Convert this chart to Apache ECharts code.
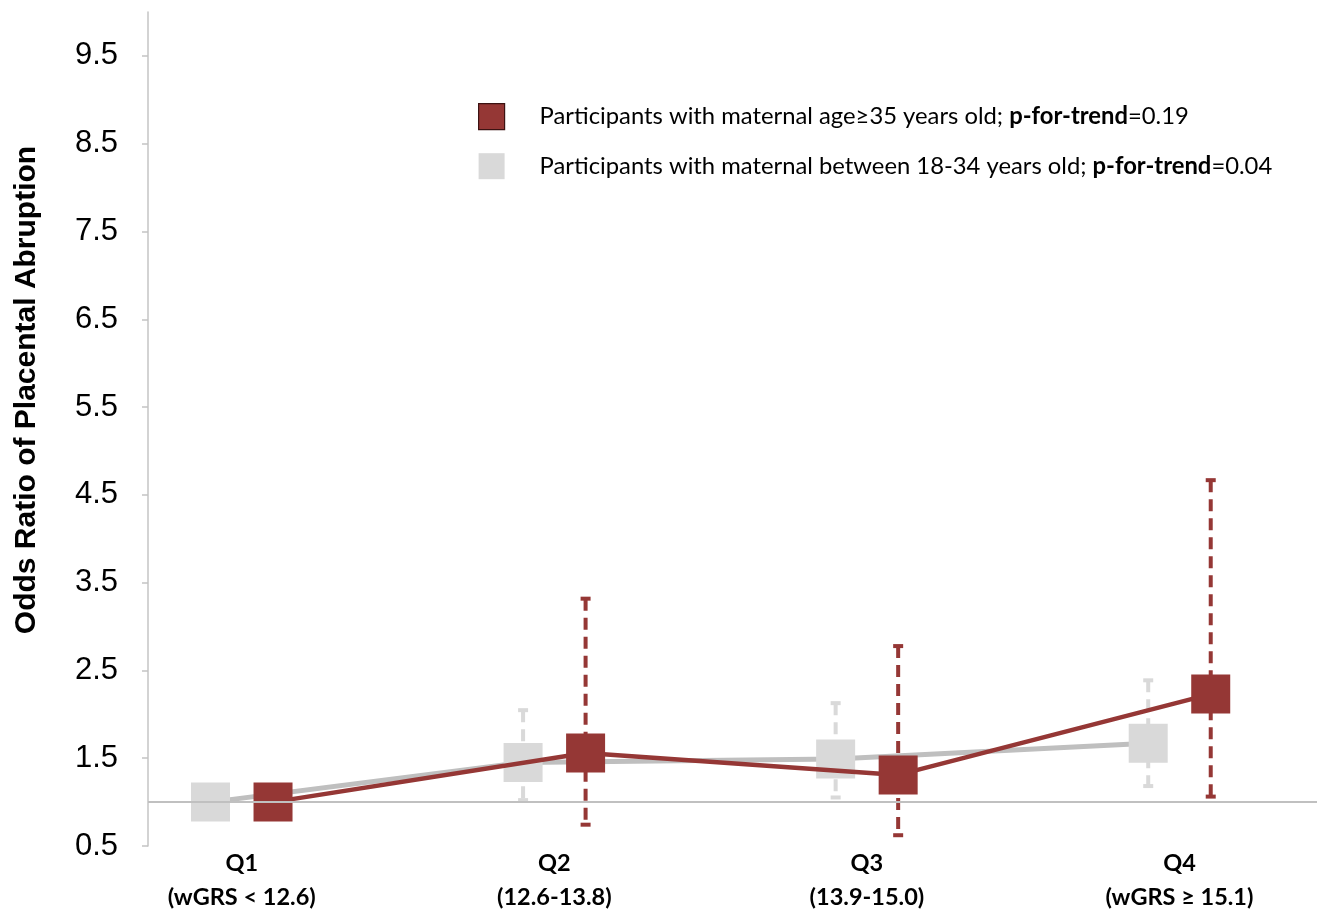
<!DOCTYPE html>
<html>
<head>
<meta charset="utf-8">
<script src="https://cdn.jsdelivr.net/npm/echarts@6/dist/echarts.min.js"></script>
<style>
  html, body { margin: 0; padding: 0; background: #ffffff; }
  #chart { width: 1317px; height: 913px; }
</style>
</head>
<body>
<div id="chart"></div>
<script>
// Quartiles of the weighted genetic risk score
const quartiles = ['Q1', 'Q2', 'Q3', 'Q4'];
const quartileRanges = ['(wGRS < 12.6)', '(12.6-13.8)', '(13.9-15.0)', '(wGRS \u2265 15.1)'];

// Maternal age >= 35: odds ratios with 95% CI (Q1 is the reference group)
const olderOR = [1.00, 1.56, 1.31, 2.23];
const olderLow = [null, 0.72, 0.60, 1.04];
const olderHigh = [null, 3.34, 2.80, 4.69];

// Maternal age 18-34: odds ratios with 95% CI
const youngerOR = [1.00, 1.45, 1.49, 1.67];
const youngerLow = [null, 1.00, 1.03, 1.16];
const youngerHigh = [null, 2.07, 2.15, 2.41];

// Legend wording and trend p-values
const groupLabels = [
  'Participants with maternal age\u226535 years old; ',
  'Participants with maternal between 18-34 years old; '
];
const trendP = ['0.19', '0.04'];

// Y axis tick labels
const yTicks = [0.5, 1.5, 2.5, 3.5, 4.5, 5.5, 6.5, 7.5, 8.5, 9.5];
const referenceOR = 1;

// Horizontal offset of the two groups around each quartile position
const DODGE = 0.1;
const RED = '#953735';
const GREY_MARK = '#d9d9d9';
const GREY_LINE = '#bfbfbf';

const seriesNames = ['older', 'younger'];

function points(values, shift) {
  return values.map((v, i) => [i + 1 + shift, v]);
}
function ciRows(low, high, shift) {
  const rows = [];
  low.forEach((l, i) => {
    if (l != null && high[i] != null) rows.push([i + 1 + shift, l, high[i]]);
  });
  return rows;
}

function errorBarRenderer(color) {
  return function (params, api) {
    const x = api.value(0);
    const lo = api.coord([x, api.value(1)]);
    const hi = api.coord([x, api.value(2)]);
    const cap = 5;
    const style = { stroke: color, lineWidth: 4, lineDash: [12, 7], fill: null };
    const capStyle = { stroke: color, lineWidth: 4, fill: null };
    return {
      type: 'group',
      children: [
        { type: 'line', shape: { x1: hi[0], y1: hi[1] + 2, x2: lo[0], y2: lo[1] - 2 }, style: style },
        { type: 'line', shape: { x1: hi[0] - cap, y1: hi[1] + 2, x2: hi[0] + cap, y2: hi[1] + 2 }, style: capStyle },
        { type: 'line', shape: { x1: lo[0] - cap, y1: lo[1] - 2, x2: lo[0] + cap, y2: lo[1] - 2 }, style: capStyle }
      ]
    };
  };
}

const chart = echarts.init(document.getElementById('chart'), null, { renderer: 'canvas' });

const option = {
  animation: false,
  backgroundColor: '#ffffff',
  grid: { left: 148, right: 0, top: 12, bottom: 67, containLabel: false },
  xAxis: {
    type: 'value',
    min: 0.7,
    max: 4.44,
    axisLine: { show: false },
    axisTick: { show: false },
    splitLine: { show: false },
    axisLabel: {
      customValues: [1, 2, 3, 4],
      margin: 0,
      formatter: function (v) {
        const i = Math.round(v) - 1;
        return '{q|' + quartiles[i] + '}\n{q|' + quartileRanges[i] + '}';
      },
      rich: {
        q: { fontFamily: 'Lato', fontWeight: 'bold', fontSize: 23.5, lineHeight: 34, color: '#000000', align: 'center' }
      }
    }
  },
  yAxis: {
    type: 'value',
    min: 0.5,
    max: 10,
    axisLine: { show: true, lineStyle: { color: '#c4c4c4', width: 1.5 } },
    axisTick: { show: true, customValues: yTicks, length: 6, inside: false, lineStyle: { color: '#c4c4c4', width: 1.5 } },
    splitLine: { show: false },
    axisLabel: {
      customValues: yTicks,
      margin: 30,
      formatter: v => v.toFixed(1),
      fontFamily: 'Liberation Sans, Arial, sans-serif',
      fontSize: 31,
      color: '#000000'
    }
  },
  legend: {
    orient: 'vertical',
    left: 478,
    top: 103,
    padding: 0,
    itemWidth: 26,
    itemHeight: 26,
    itemGap: 23,
    selectedMode: false,
    data: [
      { name: seriesNames[0], icon: 'rect', itemStyle: { color: RED, borderColor: '#3c1212', borderWidth: 1.2 } },
      { name: seriesNames[1], icon: 'rect', itemStyle: { color: GREY_MARK, borderWidth: 0 } }
    ],
    formatter: function (name) {
      const i = seriesNames.indexOf(name);
      return '{n|' + groupLabels[i] + '}{b|p-for-trend}{n|=' + trendP[i] + '}';
    },
    textStyle: {
      padding: [0, 0, 0, 30],
      rich: {
        n: { fontFamily: 'Lato', fontSize: 23.8, color: '#000000' },
        b: { fontFamily: 'Lato', fontSize: 23.8, fontWeight: 'bold', color: '#000000' }
      }
    }
  },
  graphic: [
    {
      type: 'text',
      x: 27,
      y: 390,
      rotation: Math.PI / 2,
      style: {
        text: 'Odds Ratio of Placental Abruption',
        fontFamily: 'Liberation Sans, Arial, sans-serif',
        fontWeight: 'bold',
        fontSize: 30,
        fill: '#000000',
        align: 'center',
        verticalAlign: 'middle'
      }
    }
  ],
  series: [
    {
      name: 'youngerCI',
      type: 'custom',
      z: 1,
      silent: true,
      renderItem: errorBarRenderer(GREY_MARK),
      data: ciRows(youngerLow, youngerHigh, -DODGE),
      markLine: {
        silent: true,
        symbol: 'none',
        label: { show: false },
        lineStyle: { type: 'solid', color: '#c0c0c0', width: 2 },
        data: [{ yAxis: referenceOR }]
      }
    },
    {
      name: seriesNames[1],
      type: 'line',
      z: 2,
      symbol: 'rect',
      symbolSize: 39,
      itemStyle: { color: GREY_MARK },
      lineStyle: { color: GREY_LINE, width: 5 },
      data: points(youngerOR, -DODGE)
    },
    {
      name: 'olderCI',
      type: 'custom',
      z: 3,
      silent: true,
      renderItem: errorBarRenderer(RED),
      data: ciRows(olderLow, olderHigh, DODGE)
    },
    {
      name: seriesNames[0],
      type: 'line',
      z: 4,
      symbol: 'rect',
      symbolSize: 39,
      itemStyle: { color: RED },
      lineStyle: { color: RED, width: 4.5 },
      data: points(olderOR, DODGE)
    }
  ]
};

chart.setOption(option);
</script>
</body>
</html>
